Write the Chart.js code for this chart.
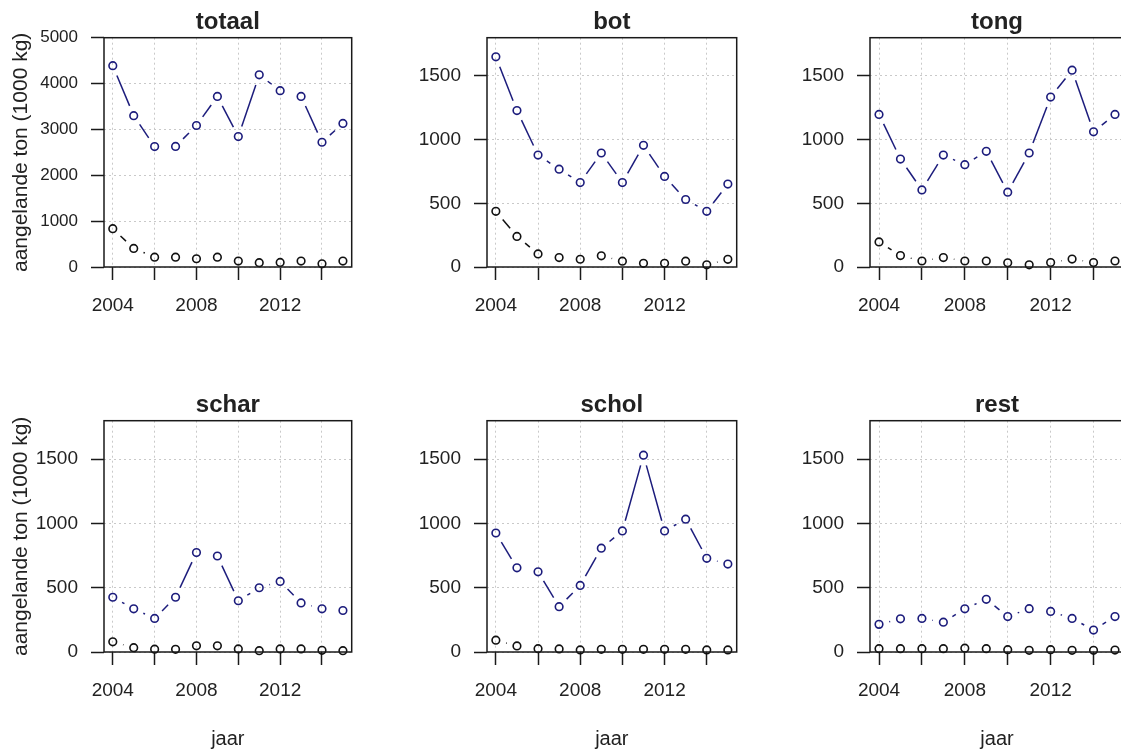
<!DOCTYPE html>
<html>
<head>
<meta charset="utf-8">
<script src="https://cdn.jsdelivr.net/npm/chart.js@4/dist/chart.umd.min.js"></script>
<style>
html,body{margin:0;padding:0;background:#fff;}
body{width:1121px;height:754px;position:relative;overflow:hidden;}
#wrap{position:absolute;left:0;top:0;width:1121px;height:754px;}
.cell{position:absolute;}
.cell canvas{display:block;}
</style>
</head>
<body>
<div id="wrap"></div>
<script>
// ---------- data ----------
const years = [2004, 2005, 2006, 2007, 2008, 2009, 2010, 2011, 2012, 2013, 2014, 2015];
const xTickValues = [2004, 2006, 2008, 2010, 2012, 2014];
const xTickLabels = [2004, 2008, 2012];
const yTicksTotaal = [0, 1000, 2000, 3000, 4000, 5000];
const yTicksSoort = [0, 500, 1000, 1500];
const yMaxTotaal = 5000;
const yMaxSoort = 1800;
const titels = ['totaal', 'bot', 'tong', 'schar', 'schol', 'rest'];
const yAsTitel = 'aangelande ton (1000 kg)';
const xAsTitel = 'jaar';

const totaalBlauw = [4390, 3300, 2625, 2630, 3085, 3720, 2845, 4190, 3845, 3720, 2720, 3130];
const totaalZwart = [835, 405, 215, 215, 180, 215, 130, 95, 100, 130, 70, 130];
const botBlauw    = [1650, 1228, 879, 768, 663, 895, 663, 955, 711, 530, 437, 651];
const botZwart    = [437, 240, 103, 74, 61, 88, 46, 29, 29, 46, 17, 60];
const tongBlauw   = [1198, 847, 605, 879, 803, 908, 587, 895, 1334, 1545, 1061, 1198];
const tongZwart   = [197, 90, 47, 74, 47, 47, 33, 17, 35, 62, 35, 47];
const scharBlauw  = [426, 336, 261, 426, 774, 747, 399, 500, 549, 382, 336, 323];
const scharZwart  = [79, 34, 22, 21, 48, 48, 24, 10, 24, 24, 13, 10];
const scholBlauw  = [926, 655, 624, 353, 518, 808, 942, 1532, 942, 1034, 729, 684];
const scholZwart  = [92, 47, 26, 24, 16, 21, 21, 21, 21, 21, 16, 16];
const restBlauw   = [215, 258, 261, 232, 336, 410, 276, 337, 316, 261, 171, 276];
const restZwart   = [26, 26, 26, 26, 30, 26, 18, 13, 18, 13, 13, 15];

const blauwReeksen = [totaalBlauw, botBlauw, tongBlauw, scharBlauw, scholBlauw, restBlauw];
const zwartReeksen = [totaalZwart, botZwart, tongZwart, scharZwart, scholZwart, restZwart];

// ---------- styling / layout ----------
const FONT = "'Liberation Sans', Arial, Helvetica, sans-serif";
const TEXT = '#222';
const BLUE = '#1c1c7c';
const BLACK = '#111';
const GRID = '#c9c9c9';
const GAP = 10.6; // R type="b" gap around points (px)

const COL_LEFT = [0, 383, 766];
const CANVAS_W = [355, 355, 358];
const PAD_RIGHT = [3.3, 1.3, 0];
const ROW_TOP = [0, 383];
const ROW_H = [317, 369];
const XAXIS_H = [50, 100];
const YAXIS_W = 104;
const X_MIN = 2003.58, X_MAX = 2015.42;

function gapDash(ctx) {
  const dx = ctx.p1.x - ctx.p0.x, dy = ctx.p1.y - ctx.p0.y;
  const L = Math.hypot(dx, dy);
  if (L <= 2 * GAP + 0.5) return [0, 100000];
  return [0, GAP, L - 2 * GAP, GAP];
}

const boxPlugin = {
  id: 'box',
  afterDatasetsDraw(chart) {
    const {ctx, chartArea: a} = chart;
    ctx.save();
    ctx.strokeStyle = '#1a1a1a';
    ctx.lineWidth = 1.5;
    ctx.setLineDash([]);
    ctx.strokeRect(a.left, a.top, a.right - a.left, a.bottom - a.top);
    ctx.restore();
  }
};

function toXY(vals) { return years.map((y, i) => ({x: y, y: vals[i]})); }

function series(vals, color) {
  return {
    data: toXY(vals),
    borderColor: color, borderWidth: 1.5, borderCapStyle: 'butt',
    pointStyle: 'circle', pointRadius: 3.8, pointBorderWidth: 1.6,
    pointBorderColor: color, pointBackgroundColor: 'rgba(0,0,0,0)',
    fill: false, tension: 0, clip: false,
    segment: { borderDash: gapDash }
  };
}

const wrap = document.getElementById('wrap');
titels.forEach((titel, i) => {
  const row = Math.floor(i / 3), col = i % 3;
  const W = CANVAS_W[col], H = ROW_H[row];
  const div = document.createElement('div');
  div.className = 'cell';
  div.style.left = COL_LEFT[col] + 'px';
  div.style.top = ROW_TOP[row] + 'px';
  div.style.width = W + 'px';
  div.style.height = H + 'px';
  const cv = document.createElement('canvas');
  cv.width = W; cv.height = H;
  cv.style.width = W + 'px'; cv.style.height = H + 'px';
  div.appendChild(cv);
  wrap.appendChild(div);
  const isTotaal = i === 0;
  const yTicks = isTotaal ? yTicksTotaal : yTicksSoort;
  new Chart(cv, {
    type: 'line',
    data: { datasets: [series(blauwReeksen[i], BLUE), series(zwartReeksen[i], BLACK)] },
    options: {
      responsive: false, animation: false, events: [],
      layout: { autoPadding: false, padding: { left: 0, right: PAD_RIGHT[col], top: 0, bottom: 0 } },
      plugins: {
        legend: { display: false }, tooltip: { enabled: false },
        title: { display: true, text: titel, fullSize: false, color: TEXT,
          font: { family: FONT, size: 24, weight: 'bold', lineHeight: 1.2 },
          padding: { top: 7.6, bottom: 1.3 } }
      },
      scales: {
        x: {
          type: 'linear', min: X_MIN, max: X_MAX,
          afterBuildTicks: s => { s.ticks = xTickValues.map(v => ({value: v})); },
          afterFit: s => { s.height = XAXIS_H[row]; },
          ticks: { autoSkip: false, maxRotation: 0, minRotation: 0, padding: 14, color: TEXT,
            font: { family: FONT, size: 19 },
            callback: v => xTickLabels.includes(v) ? String(v) : '' },
          grid: { color: GRID, lineWidth: 1, drawTicks: true, tickLength: 13,
            tickColor: '#1a1a1a', tickWidth: 1.5, tickBorderDash: [] },
          border: { display: false, dash: [2, 3] },
          title: { display: row === 1, text: xAsTitel, color: TEXT,
            font: { family: FONT, size: 20, lineHeight: 1.2 }, padding: { top: 0, bottom: 0.5 } }
        },
        y: {
          type: 'linear', min: 0, max: isTotaal ? yMaxTotaal : yMaxSoort,
          afterBuildTicks: s => { s.ticks = yTicks.map(v => ({value: v})); },
          afterFit: s => { s.width = YAXIS_W; },
          ticks: { autoSkip: false, padding: 13, color: TEXT,
            font: { family: FONT, size: isTotaal ? 17 : 19 }, callback: v => String(v) },
          grid: { color: GRID, lineWidth: 1, drawTicks: true, tickLength: 13,
            tickColor: '#1a1a1a', tickWidth: 1.5, tickBorderDash: [] },
          border: { display: false, dash: [2, 3] },
          title: { display: col === 0, text: yAsTitel, color: TEXT,
            font: { family: FONT, size: 21, lineHeight: 1.2 }, padding: { top: 8.5, bottom: 0 } }
        }
      }
    },
    plugins: [boxPlugin]
  });
});
</script>
</body>
</html>
